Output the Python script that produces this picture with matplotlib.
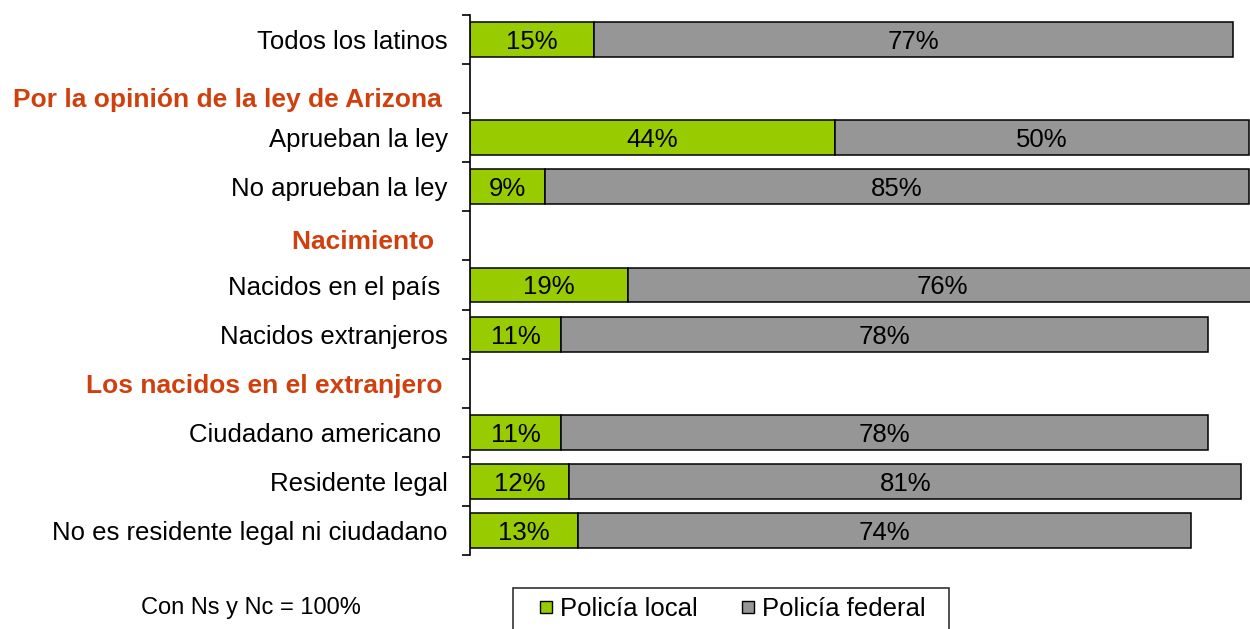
import matplotlib.pyplot as plt
from matplotlib.lines import Line2D

plt.rcParams['font.family'] = ['Liberation Sans', 'DejaVu Sans']

# data
categories = ['Todos los latinos', 'Aprueban la ley', 'No aprueban la ley',
              'Nacidos en el país ', 'Nacidos extranjeros',
              'Ciudadano americano ', 'Residente legal',
              'No es residente legal ni ciudadano']
rows = [0, 2, 3, 5, 6, 8, 9, 10]
local = [15, 44, 9, 19, 11, 11, 12, 13]
federal = [77, 50, 85, 76, 78, 78, 81, 74]
headers = ['Por la opinión de la ley de Arizona', 'Nacimiento ',
           'Los nacidos en el extranjero']
header_rows = [1, 4, 7]
header_nudge = [11, 6, 3]  # px, headers sit a bit low in the original

GREEN = '#99CC00'
GRAY = '#969696'
ORANGE = '#D0400E'
FS = 18.5

fig = plt.figure(figsize=(12.5, 6.29), dpi=100)
ax = fig.add_axes([470/1250, 1-555/629, 829/1250, 540/629])

ax.barh(rows, local, height=0.71, color=GREEN, edgecolor='black', linewidth=1.1)
ax.barh(rows, federal, left=local, height=0.71, color=GRAY, edgecolor='black', linewidth=1.1)

for r, a, b in zip(rows, local, federal):
    ax.text(a/2, r, f'{a}%', ha='center', va='center_baseline', fontsize=FS)
    ax.text(a + b/2, r, f'{b}%', ha='center', va='center_baseline', fontsize=FS)

ax.set_xlim(0, 100)
ax.set_ylim(10.5, -0.5)
ax.set_xticks([])
for s in ['top', 'right', 'bottom']:
    ax.spines[s].set_visible(False)
ax.spines['left'].set_linewidth(1.2)

# boundary ticks, labels on row centres
ax.set_yticks([i - 0.5 for i in range(12)])
ax.set_yticklabels([])
ax.tick_params(axis='y', which='major', length=6, width=1.2, direction='out')
ax.set_yticks(rows, minor=True)
ax.set_yticklabels(categories, minor=True, fontsize=FS)
ax.tick_params(axis='y', which='minor', length=0, pad=16)

for h, r, n in zip(headers, header_rows, header_nudge):
    ax.annotate(h, xy=(0, r), xycoords=('axes fraction', 'data'),
                xytext=(-28, -n), textcoords='offset pixels',
                ha='right', va='center', fontsize=19.0, fontweight='bold',
                color=ORANGE)

fig.text(251/1250, 1-608/629, 'Con Ns y Nc = 100%', ha='center', va='center', fontsize=17)

handles = [Line2D([], [], ls='none', marker='s', markersize=8.6, markerfacecolor=GREEN,
                  markeredgecolor='black', markeredgewidth=1),
           Line2D([], [], ls='none', marker='s', markersize=8.6, markerfacecolor=GRAY,
                  markeredgecolor='black', markeredgewidth=1)]
leg = fig.legend(handles, ['Policía local', 'Policía federal  '], ncol=2,
                 loc='upper center', bbox_to_anchor=(731/1250, 1-588/629),
                 borderaxespad=0, fontsize=FS, frameon=True, fancybox=False,
                 edgecolor='black', borderpad=0.35, handlelength=1.85,
                 handletextpad=-0.35, columnspacing=1.0)
leg.get_frame().set_linewidth(1.2)

fig.savefig('out.png', dpi=100)
